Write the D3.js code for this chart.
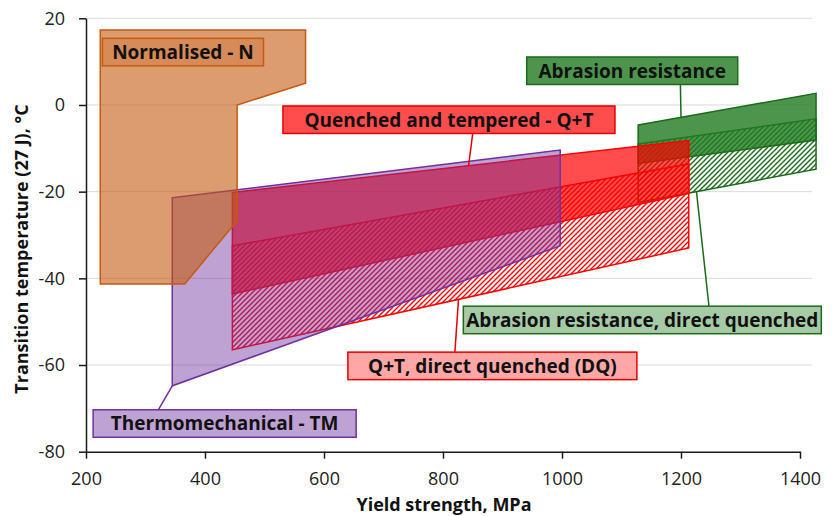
<!DOCTYPE html>
<html>
<head>
<meta charset="utf-8">
<script src="https://cdn.jsdelivr.net/npm/d3@7"></script>
<style>
  body { margin: 0; background: #fff; }
  text { font-family: "Open Sans", sans-serif; }
</style>
</head>
<body>
<svg id="chart" width="835" height="516"></svg>
<script>
// steel grades: yield strength (MPa) vs 27 J transition temperature (°C)
var normalised  = [[224, 17.3], [569, 17.3], [569, 5], [454, 0], [454, -26.7], [366, -41.3], [224, -41.3]];
var thermomech  = [[345, -21.4], [997, -10.4], [997, -32.5], [345, -64.8]];
var qt          = [[446, -20.2], [1213, -8.2], [1213, -20.4], [446, -43.6]];
var qtDQ        = [[446, -32.5], [1213, -13.6], [1213, -33.0], [446, -56.5]];
var abrasion    = [[1128, -4.6], [1427, 2.7], [1427, -8.1], [1128, -13.5]];
var abrasionDQ  = [[1128, -9.0], [1427, -3.2], [1427, -14.8], [1128, -22.5]];

var xTicks = [200, 400, 600, 800, 1000, 1200, 1400];
var yTicks = [20, 0, -20, -40, -60, -80];
var gridTicks = [20, 0, -20, -40, -60];

var labelText = ["Normalised - N", "Quenched and tempered - Q+T", "Abrasion resistance",
                 "Abrasion resistance, direct quenched", "Q+T, direct quenched (DQ)", "Thermomechanical - TM"];

var svg = d3.select("#chart");

var x = d3.scaleLinear().domain([200, 1400]).range([86, 800]);
var y = d3.scaleLinear().domain([-80, 20]).range([451.7, 18.3]);

var defs = svg.append("defs");
function hatch(id, col) {
  var p = defs.append("pattern")
      .attr("id", id)
      .attr("patternUnits", "userSpaceOnUse")
      .attr("width", 5).attr("height", 5);
  p.append("path")
      .attr("d", "M-1,1 l2,-2 M0,5 l5,-5 M4,6 l2,-2")
      .attr("stroke", col)
      .attr("stroke-width", 1.4);
}
hatch("hatchRed", "#ff0000");
hatch("hatchGreen", "#1a6b1a");

// gridlines
svg.append("g").selectAll("line")
  .data(gridTicks)
  .join("line")
    .attr("x1", x(200)).attr("x2", x(1420))
    .attr("y1", d => y(d)).attr("y2", d => y(d))
    .attr("stroke", "#d9d9d9")
    .attr("stroke-width", 1);

var line = d3.line().x(d => x(d[0])).y(d => y(d[1]));
function area(pts, fill, op, stroke) {
  svg.append("path")
      .attr("d", line(pts) + "Z")
      .attr("fill", fill)
      .attr("fill-opacity", op)
      .attr("stroke", stroke)
      .attr("stroke-width", 1.5)
      .attr("stroke-linejoin", "miter");
}

area(abrasionDQ, "url(#hatchGreen)", 1, "#1a6b1a");
area(abrasion, "#217a21", 0.8, "#1a6b1a");
area(qtDQ, "url(#hatchRed)", 1, "#ff0000");
area(qt, "#ff0000", 0.7, "#ff0000");
area(thermomech, "#7030a0", 0.45, "#7030a0");
area(normalised, "#c55a11", 0.6, "#c55a11");

// axes
var plain = d => String(d);
var yAxis = svg.append("g")
    .attr("transform", "translate(" + x(200) + ",0)")
    .call(d3.axisLeft(y).tickValues(yTicks).tickFormat(plain)
      .tickSize(7).tickSizeOuter(0).tickPadding(14));
var xAxis = svg.append("g")
    .attr("transform", "translate(0," + y(-80) + ")")
    .call(d3.axisBottom(x).tickValues(xTicks).tickFormat(plain)
      .tickSize(7).tickSizeOuter(0).tickPadding(14));
[yAxis, xAxis].forEach(function(g) {
  g.select(".domain").attr("stroke", "#1a1a1a").attr("stroke-width", 1.5);
  g.selectAll(".tick line").attr("stroke", "#1a1a1a").attr("stroke-width", 1.5);
  g.selectAll(".tick text")
    .attr("fill", "#222")
    .style("font-family", "'Open Sans', sans-serif")
    .style("font-size", "18px");
});

svg.append("text")
    .attr("x", 444).attr("y", 510.5)
    .attr("text-anchor", "middle")
    .attr("font-weight", "bold").attr("font-size", 18)
    .attr("fill", "#111")
    .text("Yield strength, MPa");

svg.append("text")
    .attr("transform", "translate(27.5,249) rotate(-90)")
    .attr("text-anchor", "middle")
    .attr("font-weight", "bold").attr("font-size", 18)
    .attr("fill", "#111")
    .text("Transition temperature (27 J), \u00b0C");

// callouts: box centre in data units, box width in px, leader from box edge to a point on the shape
var callouts = [
  { i: 0, cx: 363,  cy: 12.2,  w: 161, fill: "#c55a11", op: 0.7,  stroke: "#c55a11" },
  { i: 1, cx: 810,  cy: -3.4,  w: 332, fill: "#ff0000", op: 0.7,  stroke: "#e60000",
    from: [850, "bottom"], to: [843, -14.0] },
  { i: 2, cx: 1118, cy: 7.9,   w: 211, fill: "#217a21", op: 0.8,  stroke: "#1a6b1a",
    from: [1199, "bottom"], to: [1200, -2.9] },
  { i: 3, cx: 1135, cy: -49.6, w: 358, fill: "#217a21", op: 0.4,  stroke: "#1a6b1a",
    from: [1247, "top"], to: [1226, -20.0] },
  { i: 4, cx: 883,  cy: -60.2, w: 289, fill: "#ff0000", op: 0.35, stroke: "#e60000",
    from: [820, "top"], to: [826, -44.9] },
  { i: 5, cx: 433,  cy: -73.5, w: 263, fill: "#7030a0", op: 0.45, stroke: "#7030a0",
    from: [321.5, "top"], to: [345, -64.8] }
];
var boxH = 27.5;

callouts.forEach(function(c) {
  var px = x(c.cx), py = y(c.cy);
  if (c.from) {
    var sy = c.from[1] == "top" ? py - boxH / 2 : py + boxH / 2;
    svg.append("line")
        .attr("x1", x(c.from[0])).attr("y1", sy)
        .attr("x2", x(c.to[0])).attr("y2", y(c.to[1]))
        .attr("stroke", c.stroke)
        .attr("stroke-width", 1.5);
  }
  svg.append("rect")
      .attr("x", px - c.w / 2).attr("y", py - boxH / 2)
      .attr("width", c.w).attr("height", boxH)
      .attr("fill", "#fff");
  svg.append("rect")
      .attr("x", px - c.w / 2).attr("y", py - boxH / 2)
      .attr("width", c.w).attr("height", boxH)
      .attr("fill", c.fill).attr("fill-opacity", c.op)
      .attr("stroke", c.stroke).attr("stroke-width", 1.5);
  svg.append("text")
      .attr("x", px).attr("y", py)
      .attr("dy", "0.36em")
      .attr("text-anchor", "middle")
      .attr("font-weight", "bold").attr("font-size", 19)
      .attr("fill", "#111")
      .text(labelText[c.i]);
});
</script>
</body>
</html>
